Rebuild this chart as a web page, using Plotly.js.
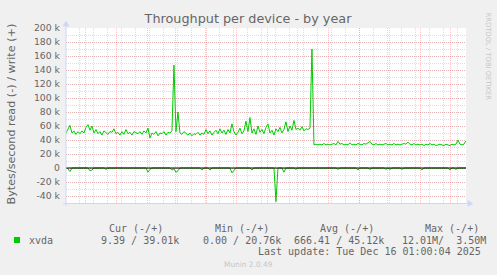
<!DOCTYPE html>
<html><head><meta charset="utf-8">
<script src="https://cdn.plot.ly/plotly-3.0.1.min.js"></script>
<style>html,body{margin:0;padding:0;background:#f0f0f0;overflow:hidden}#chart{width:497px;height:275px}</style>
</head><body><div id="chart"></div>
<script>
// Sample dates (every 2 days)
const dates = [
"2024-11-11","2024-11-13","2024-11-15","2024-11-17","2024-11-19","2024-11-21","2024-11-23","2024-11-25","2024-11-27","2024-11-29",
"2024-12-01","2024-12-03","2024-12-05","2024-12-07","2024-12-09","2024-12-11","2024-12-13","2024-12-15","2024-12-17","2024-12-19","2024-12-21","2024-12-23","2024-12-25","2024-12-27","2024-12-29","2024-12-31",
"2025-01-02","2025-01-04","2025-01-06","2025-01-08","2025-01-10","2025-01-12","2025-01-14","2025-01-16","2025-01-18","2025-01-20","2025-01-22","2025-01-24","2025-01-26","2025-01-28","2025-01-30",
"2025-02-01","2025-02-03","2025-02-05","2025-02-07","2025-02-09","2025-02-11","2025-02-13","2025-02-15","2025-02-17","2025-02-19","2025-02-21","2025-02-23","2025-02-25","2025-02-27",
"2025-03-01","2025-03-03","2025-03-05","2025-03-07","2025-03-09","2025-03-11","2025-03-13","2025-03-15","2025-03-17","2025-03-19","2025-03-21","2025-03-23","2025-03-25","2025-03-27","2025-03-29","2025-03-31",
"2025-04-02","2025-04-04","2025-04-06","2025-04-08","2025-04-10","2025-04-12","2025-04-14","2025-04-16","2025-04-18","2025-04-20","2025-04-22","2025-04-24","2025-04-26","2025-04-28","2025-04-30",
"2025-05-02","2025-05-04","2025-05-06","2025-05-08","2025-05-10","2025-05-12","2025-05-14","2025-05-16","2025-05-18","2025-05-20","2025-05-22","2025-05-24","2025-05-26","2025-05-28","2025-05-30",
"2025-06-01","2025-06-03","2025-06-05","2025-06-07","2025-06-09","2025-06-11","2025-06-13","2025-06-15","2025-06-17","2025-06-19","2025-06-21","2025-06-23","2025-06-25","2025-06-27","2025-06-29",
"2025-07-01","2025-07-03","2025-07-05","2025-07-07","2025-07-09","2025-07-11","2025-07-13","2025-07-15","2025-07-17","2025-07-19","2025-07-21","2025-07-23","2025-07-25","2025-07-27","2025-07-29","2025-07-31",
"2025-08-02","2025-08-04","2025-08-06","2025-08-08","2025-08-10","2025-08-12","2025-08-14","2025-08-16","2025-08-18","2025-08-20","2025-08-22","2025-08-24","2025-08-26","2025-08-28","2025-08-30",
"2025-09-01","2025-09-03","2025-09-05","2025-09-07","2025-09-09","2025-09-11","2025-09-13","2025-09-15","2025-09-17","2025-09-19","2025-09-21","2025-09-23","2025-09-25","2025-09-27","2025-09-29",
"2025-10-01","2025-10-03","2025-10-05","2025-10-07","2025-10-09","2025-10-11","2025-10-13","2025-10-15","2025-10-17","2025-10-19","2025-10-21","2025-10-23","2025-10-25","2025-10-27","2025-10-29","2025-10-31",
"2025-11-02","2025-11-04","2025-11-06","2025-11-08","2025-11-10","2025-11-12","2025-11-14","2025-11-16","2025-11-18","2025-11-20","2025-11-22","2025-11-24","2025-11-26","2025-11-28","2025-11-30",
"2025-12-02","2025-12-04","2025-12-06","2025-12-08","2025-12-10","2025-12-12","2025-12-14","2025-12-16"
];
// xvda write, kB/s (plotted upward)
const writeK = [
50,56,61,50,53,48,52,49,53,50,
58,62,54,60,50,55,49,52,47,53,50,48,52,51,56,49,
51,47,52,48,55,49,51,47,52,50,49,52,48,53,50,
57,43,50,48,52,46,50,49,52,47,51,50,53,147,
52,80,50,48,52,49,47,50,46,49,48,51,47,50,48,55,
49,53,47,51,54,49,56,50,54,48,55,50,63,52,47,
51,57,49,53,67,52,72,50,56,48,60,51,55,49,58,
63,50,54,47,56,52,58,50,55,66,52,60,54,68,55,
57,54,59,53,56,55,57,170,33,34,33,34,33,35,33,34,
33,34,35,33,38,34,35,33,34,33,36,33,34,33,35,
34,33,35,34,36,38,34,33,35,33,34,33,34,35,33,
34,33,35,33,34,33,34,35,34,37,34,33,35,33,34,33,
34,32,34,33,35,33,34,32,33,34,33,32,34,33,32,
34,33,34,40,34,33,34,39
];
// xvda read, kB/s (plotted downward)
const readK = [
0,1,5,0,0,0,0,0,0,1,
0,0,4,3,0,0,0,0,0,0,2,0,0,0,0,0,
1,0,1,1,0,0,0,0,0,0,0,0,0,0,0,
6,2,0,0,0,0,0,0,0,0,0,0,3,1,
6,4,0,0,0,0,0,0,0,0,0,0,0,3,0,0,
0,3,0,0,0,0,0,0,0,0,0,0,7,3,0,
0,0,0,0,0,0,0,3,0,0,0,0,0,0,0,
0,0,0,0,48,0,0,0,6,0,0,0,0,0,2,
0,0,0,0,0,0,1,0,0,0,0,0,0,0,0,0,
0,0,0,0,2,0,0,0,0,0,0,0,0,0,3,
0,0,0,0,0,2,0,0,0,0,0,0,0,2,0,
2,0,0,0,0,0,2,0,0,0,0,0,0,0,0,0,
3,0,0,0,1,0,0,0,0,0,0,0,0,0,3,
0,0,2,0,0,0,0,0
];
const yTickVals = [-40000,-20000,0,20000,40000,60000,80000,100000,120000,140000,160000,180000,200000];
const yTickText = ["-40 k","-20 k","0","20 k","40 k","60 k","80 k","100 k","120 k","140 k","160 k","180 k","200 k"];
const xLabelDates = ["2025-01-16","2025-04-16","2025-07-16","2025-10-17"];
const xLabelText = ["January 2025","April 2025","July 2025","October 2025"];
const statHeaders = ["Cur (-/+)","Min (-/+)","Avg (-/+)","Max (-/+)"];
const statValues = ["9.39 / 39.01k","0.00 / 20.76k","666.41 / 45.12k","12.01M/ \u00a03.50M"];
const seriesName = "xvda";
const lastUpdate = "Last update: Tue Dec 16 01:00:04 2025";

const X_RANGE = ["2024-11-11 01:00","2025-12-16 01:00"];
const GREEN = "#00cc00";
const MGRID = "rgba(235,120,120,0.42)";
const GRID = "rgba(150,150,150,0.32)";
const AXIS = "#CFD6F8";
const FONTC = "#666666";
const W = 497, H = 275, L = 66, R = 466, T = 28, B = 203;
const px = v => (v - L) / (R - L);
const py = v => (B - v) / (B - T);

const traces = [
  {type:"scatter", mode:"lines", x:dates, y:writeK.map(v=>v*1000), line:{color:GREEN,width:1}, hoverinfo:"skip"},
  {type:"scatter", mode:"lines", x:dates, y:readK.map(v=>-v*1000), line:{color:GREEN,width:1}, hoverinfo:"skip"}
];

const mono = {family:"DejaVu Sans Mono", size:10, color:FONTC};
const ann = [];
ann.push({xref:"paper",yref:"paper",x:px(10.5),y:py(114),text:"Bytes/second read (-) / write (+)",textangle:-90,showarrow:false,xanchor:"center",yanchor:"middle",font:{family:"DejaVu Sans",size:11.2,color:FONTC}});
ann.push({xref:"paper",yref:"paper",x:px(487.5),y:py(56),text:"RRDTOOL / TOBI OETIKER",textangle:90,showarrow:false,xanchor:"center",yanchor:"middle",font:{family:"DejaVu Sans",size:6.8,color:"#c6c6c6"}});
const headX = [107,212.7,318.3,422.7];
statHeaders.forEach((t,i)=>ann.push({xref:"paper",yref:"paper",x:px(headX[i]),y:py(228.5),text:t,showarrow:false,xanchor:"left",yanchor:"middle",font:mono}));
ann.push({xref:"paper",yref:"paper",x:px(26.7),y:py(240),text:seriesName,showarrow:false,xanchor:"left",yanchor:"middle",font:mono});
const valX = [99.3,201.3,292,400];
statValues.forEach((t,i)=>ann.push({xref:"paper",yref:"paper",x:px(valX[i]),y:py(240),text:t,showarrow:false,xanchor:"left",yanchor:"middle",font:mono}));
ann.push({xref:"paper",yref:"paper",x:px(483),y:py(251.5),text:lastUpdate,showarrow:false,xanchor:"right",yanchor:"middle",font:mono});
ann.push({xref:"paper",yref:"paper",x:px(248.7),y:py(264.3),text:"Munin 2.0.49",showarrow:false,xanchor:"center",yanchor:"middle",font:{family:"DejaVu Sans",size:7.4,color:"#c6c6c6"}});

const shapes = [
  {type:"line",xref:"paper",yref:"y",x0:0,x1:1,y0:0,y1:0,line:{color:"#000",width:1},layer:"above"},
  {type:"line",xref:"paper",yref:"paper",x0:px(63),x1:px(469),y0:py(203.5),y1:py(203.5),line:{color:AXIS,width:1},layer:"above"},
  {type:"line",xref:"paper",yref:"paper",x0:px(66),x1:px(66),y0:py(206),y1:py(24),line:{color:AXIS,width:1},layer:"above"},
  {type:"path",xref:"paper",yref:"paper",path:`M ${px(473)},${py(203.5)} L ${px(468)},${py(200.5)} L ${px(468)},${py(206.5)} Z`,fillcolor:AXIS,line:{color:AXIS,width:0.5},layer:"above"},
  {type:"path",xref:"paper",yref:"paper",path:`M ${px(66)},${py(21)} L ${px(63)},${py(26)} L ${px(69)},${py(26)} Z`,fillcolor:AXIS,line:{color:AXIS,width:0.5},layer:"above"},
  {type:"rect",xref:"paper",yref:"paper",x0:px(14),x1:px(20),y0:py(243),y1:py(237),fillcolor:GREEN,line:{width:0}}
];

const layout = {
  width:W, height:H,
  margin:{l:L, r:W-R, t:T, b:H-B, pad:0},
  paper_bgcolor:"#f0f0f0", plot_bgcolor:"#ffffff",
  showlegend:false,
  font:{family:"DejaVu Sans", color:FONTC, size:9.3},
  title:{text:"Throughput per device - by year", font:{family:"DejaVu Sans",size:12.8,color:FONTC}, x:248/W, xref:"container", xanchor:"center", y:1-19/H, yref:"container", yanchor:"middle"},
  xaxis:{type:"date", range:X_RANGE, showticklabels:false, ticks:"", tickmode:"linear", dtick:"M1", tick0:"2024-12-01",
    showgrid:true, gridcolor:MGRID, griddash:"1px,1px", gridwidth:1, zeroline:false, showline:false, fixedrange:true,
    minor:{tickmode:"linear", dtick:14*86400000, tick0:"2024-11-24 08:00", showgrid:true, gridcolor:GRID, griddash:"1px,1px", gridwidth:1, ticks:""}},
  xaxis2:{type:"date", overlaying:"x", anchor:"y", side:"bottom", range:X_RANGE, tickmode:"array", tickvals:xLabelDates, ticktext:xLabelText,
    showgrid:false, zeroline:false, showline:false, ticks:"", tickfont:{family:"DejaVu Sans",size:9.7,color:FONTC}, fixedrange:true},
  yaxis:{range:[-50000,200000], tickmode:"array", tickvals:yTickVals, ticktext:yTickText, showgrid:true, gridcolor:MGRID, griddash:"1px,1px", gridwidth:1,
    zeroline:false, showline:false, ticks:"", ticklabelstandoff:5, tickfont:{family:"DejaVu Sans",size:9.3,color:FONTC}, fixedrange:true,
    minor:{tickmode:"linear", dtick:10000, tick0:0, showgrid:true, gridcolor:GRID, griddash:"1px,1px", gridwidth:1, ticks:""}},
  shapes:shapes,
  annotations:ann
};
Plotly.newPlot("chart", traces, layout, {staticPlot:true, displayModeBar:false});
</script></body></html>
